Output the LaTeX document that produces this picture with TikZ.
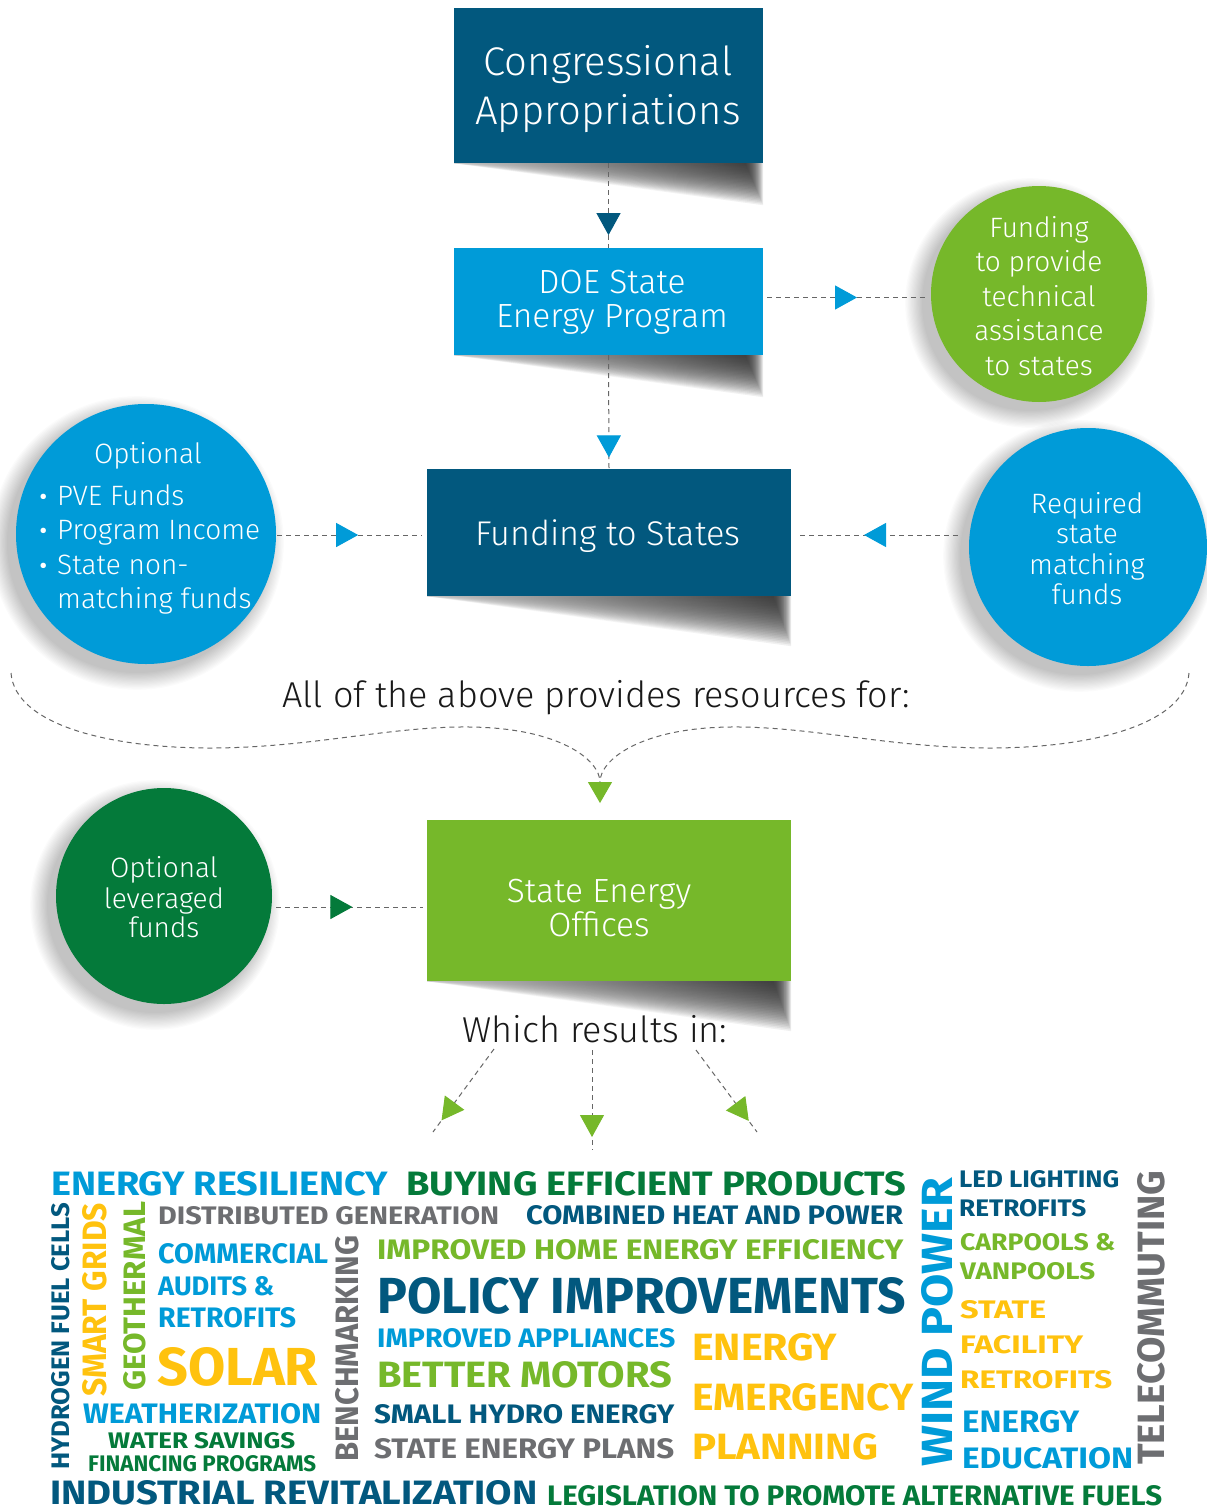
\documentclass[tikz,border=0pt]{standalone}
\usepackage{fontspec}
\usepackage{graphicx}
\usetikzlibrary{arrows.meta,decorations.markings,calc}
\IfFontExistsTF{Fira Sans Light}{\newfontfamily\lightfont{Fira Sans Light}}{\newfontfamily\lightfont{Fira Sans}}
\newfontfamily\boldfont{Fira Sans}
\definecolor{dblue}{HTML}{02587E}
\definecolor{lblue}{HTML}{009BD8}
\definecolor{lgreen}{HTML}{76B82A}
\definecolor{dgreen}{HTML}{047A3A}
\definecolor{wyellow}{HTML}{FFC20E}
\definecolor{wgray}{HTML}{6D6E71}
\pgfdeclarelayer{bg}
\pgfdeclarelayer{back}
\pgfsetlayers{back,bg,main}
\tikzset{
  box/.style={rectangle, inner sep=0pt},
  disc/.style={circle, inner sep=0pt},
  conn/.style={draw=black!60, line width=1pt, dash pattern=on 5pt off 4pt},
  tipat/.style n args={3}{postaction={decorate}, decoration={markings, mark=at position #1 with {\arrow{Triangle[length=#3pt,width=24pt,color=#2,fill=#2]}}}},
  lbl/.style={inner sep=0pt, anchor=base},
}
\newcommand{\lt}[5]{\node[lbl, text=#4, font={\lightfont\fontsize{#3}{#3}\selectfont}] (#1) at #2 {#5};}
\newcommand{\ltl}[5]{\node[lbl, anchor=base west, text=#4, font={\lightfont\fontsize{#3}{#3}\selectfont}] (#1) at #2 {#5};}
\newcommand{\wc}[7]{\node[inner sep=0pt, anchor=base west, text=#6] (#1) at (#2,#3) {\resizebox{#4pt}{#5pt}{\boldfont\bfseries #7}};}
\newcommand{\wcr}[7]{\node[inner sep=0pt, anchor=base west, rotate=90, text=#6] (#1) at (#2,#3) {\resizebox{#4pt}{#5pt}{\boldfont\bfseries #7}};}
\newcommand{\bul}{\makebox[19pt][l]{\smash{\raisebox{-4pt}{\scalebox{1.3}{•}}}}}
\begin{document}
\begin{tikzpicture}[x=1pt,y=-1pt]
\begin{pgfonlayer}{back}
\fill[white] (0,0) rectangle (1207,1510);
\end{pgfonlayer}
\useasboundingbox (0,0) rectangle (1207,1510);

% boxes
\node[box, fill=dblue, minimum width=309pt, minimum height=155pt] (cong) at (608.5,85.5) {};
\node[box, fill=lblue, minimum width=309pt, minimum height=107pt] (doe) at (608.5,301.5) {};
\node[box, fill=dblue, minimum width=364pt, minimum height=127pt] (fts) at (609,532.5) {};
\node[box, fill=lgreen, minimum width=364pt, minimum height=161pt] (seo) at (609,900.5) {};

% circles
\node[disc, fill=lgreen, minimum size=216pt] (ta) at (1039,294) {};
\node[disc, fill=lblue, minimum size=260pt] (opt) at (146,534) {};
\node[disc, fill=lblue, minimum size=238pt] (req) at (1088,547) {};
\node[disc, fill=dgreen, minimum size=216pt] (lev) at (164,896) {};

% shadows
\begin{pgfonlayer}{bg}
\foreach \b/\d in {cong/42, doe/42, fts/50, seo/50} {
  \foreach \k in {1,...,30} {
    \shade[left color=black!25, right color=black!85, opacity=0.065]
      (\b.south west) -- ($(\b.south east)+({-0.6*(30-\k)},0)$) -- ++(0,{\d*\k/30}) -- cycle;
  }
}
\foreach \c/\r in {ta/108, opt/130, req/119, lev/108} {
  \foreach \k in {0,...,14} {
    \fill[black, opacity=0.017] ($(\c)+(-9,9)$) circle [radius={(\r+\k*1.2)*1pt}];
  }
}
\end{pgfonlayer}

% box labels
\lt{congA}{(608,75)}{40}{white}{Congressional}
\lt{congB}{(608,124)}{40}{white}{Appropriations}
\lt{doeA}{(612,293)}{33.5}{white}{DOE State}
\lt{doeB}{(612,327)}{33.5}{white}{Energy Program}
\lt{ftsT}{(608,545)}{34.3}{white}{Funding to States}
\lt{seoA}{(599,902)}{33.5}{white}{State Energy}
\lt{seoB}{(599,936)}{33.5}{white}{Offices}
\lt{allT}{(596,707)}{36}{black!90}{All of the above provides resources for:}
\lt{wriT}{(595,1042)}{36}{black!90}{Which results in:}

% circle labels
\lt{taA}{(1039,237)}{28}{white}{Funding}
\lt{taB}{(1039,271.5)}{28}{white}{to provide}
\lt{taC}{(1039,306)}{28}{white}{technical}
\lt{taD}{(1039,340.5)}{28}{white}{assistance}
\lt{taE}{(1039,375)}{28}{white}{to states}
\lt{optA}{(148,463)}{28}{white}{Optional}
\ltl{optB}{(38,505)}{28}{white}{\bul PVE Funds}
\ltl{optC}{(38,539)}{28}{white}{\bul Program Income}
\ltl{optD}{(38,574)}{28}{white}{\bul State non-}
\ltl{optE}{(38,608)}{28}{white}{\hspace*{19pt}matching funds}
\lt{reqA}{(1087,513)}{28}{white}{Required}
\lt{reqB}{(1087,543)}{28}{white}{state}
\lt{reqC}{(1087,574)}{28}{white}{matching}
\lt{reqD}{(1087,604)}{28}{white}{funds}
\lt{levA}{(164,877)}{28}{white}{Optional}
\lt{levB}{(164,908)}{28}{white}{leveraged}
\lt{levC}{(164,937)}{28}{white}{funds}

% connectors
\draw[conn, tipat={0.85}{dblue}{22}] (cong.south) -- (doe.north);
\draw[conn, tipat={0.90}{lblue}{22}] (doe.south) -- (fts.north);
\draw[conn, tipat={0.57}{lblue}{22}] ($(doe.east)+(4,-4)$) -- ($(doe.east -| ta.west)+(-6,-4)$);
\draw[conn, tipat={0.56}{lblue}{22}] ($(opt.east)+(1,1)$) -- ($(opt.east -| fts.west)+(-5,1)$);
\draw[conn, tipat={0.595}{lblue}{22}] ($(req.west)+(-11,-12)$) -- ($(req.west -| fts.east)+(9,-12)$);
\draw[conn, tipat={0.52}{dgreen}{22}] ($(lev.east)+(4,11)$) -- ($(lev.east -| seo.west)+(-4,11)$);

\coordinate (cl) at (11,673);
\coordinate (cr) at (1189,673);
\coordinate (cm) at (600,803);
\coordinate (cmt) at (600,782);
\draw[conn, -{Triangle[length=21pt,width=24pt,color=lgreen,fill=lgreen]}] (cl) .. controls (15,725) and (110,748) .. (210,748) .. controls (310,748) and (390,726) .. (470,727) .. controls (560,728) and (600,760) .. (cm);
\draw[conn] (cr) .. controls (1185,725) and (1090,748) .. (990,748) .. controls (890,748) and (810,726) .. (730,727) .. controls (640,728) and (600,760) .. (cmt);

\coordinate (w1s) at (494,1049);
\coordinate (w1e) at (433,1132);
\coordinate (w2s) at (592,1050);
\coordinate (w2e) at (592,1150);
\coordinate (w3s) at (696,1050);
\coordinate (w3e) at (757,1132);
\draw[conn, tipat={0.86}{lgreen}{22}] (w1s) -- (w1e);
\draw[conn, tipat={0.87}{lgreen}{22}] (w2s) -- (w2e);
\draw[conn, tipat={0.865}{lgreen}{22}] (w3s) -- (w3e);

% word cloud
\wc{w01}{51}{1195}{337}{24}{lblue}{ENERGY RESILIENCY}
\wc{w02}{406}{1195}{500}{24}{dgreen}{BUYING EFFICIENT PRODUCTS}
\wc{w03}{158}{1224}{341}{18}{wgray}{DISTRIBUTED GENERATION}
\wc{w04}{526}{1224}{377}{19}{dblue}{COMBINED HEAT AND POWER}
\wc{w05}{158}{1263}{170}{20}{lblue}{COMMERCIAL}
\wc{w06}{158}{1295}{116}{19}{lblue}{AUDITS \&}
\wc{w07}{158}{1327}{138}{20}{lblue}{RETROFITS}
\wc{w08}{157}{1385}{161}{38}{wyellow}{SOLAR}
\wc{w09}{83}{1423}{238}{20}{lblue}{WEATHERIZATION}
\wc{w10}{108}{1448}{187}{16}{dgreen}{WATER SAVINGS}
\wc{w11}{88}{1471}{228}{16}{dgreen}{FINANCING PROGRAMS}
\wc{w12}{50}{1504}{487}{24}{dblue}{INDUSTRIAL REVITALIZATION}
\wc{w13}{547}{1505}{615}{20}{dgreen}{LEGISLATION TO PROMOTE ALTERNATIVE FUELS}
\wc{w14}{377}{1259}{526}{20}{lgreen}{IMPROVED HOME ENERGY EFFICIENCY}
\wc{w15}{377}{1313}{529}{36}{dblue}{POLICY IMPROVEMENTS}
\wc{w16}{377}{1347}{298}{19}{lblue}{IMPROVED APPLIANCES}
\wc{w17}{377}{1387}{295}{26}{lgreen}{BETTER MOTORS}
\wc{w18}{374}{1423}{300}{19}{dblue}{SMALL HYDRO ENERGY}
\wc{w19}{374}{1458}{300}{20}{wgray}{STATE ENERGY PLANS}
\wc{w20}{692}{1360}{145}{27}{wyellow}{ENERGY}
\wc{w21}{692}{1410}{221}{27}{wyellow}{EMERGENCY}
\wc{w22}{692}{1459}{186}{26}{wyellow}{PLANNING}
\wc{w23}{959}{1187}{160}{17}{dblue}{LED LIGHTING}
\wc{w24}{959}{1216}{127}{17}{dblue}{RETROFITS}
\wc{w25}{960}{1250}{155}{17}{lgreen}{CARPOOLS \&}
\wc{w26}{960}{1279}{135}{17}{lgreen}{VANPOOLS}
\wc{w27}{960}{1318}{86}{18}{wyellow}{STATE}
\wc{w28}{960}{1353}{123}{18}{wyellow}{FACILITY}
\wc{w29}{960}{1388}{152}{18}{wyellow}{RETROFITS}
\wc{w30}{962}{1432}{117}{22}{lblue}{ENERGY}
\wc{w31}{962}{1468}{171}{21}{lblue}{EDUCATION}
\wcr{w32}{70}{1470}{267}{18}{dblue}{HYDROGEN FUEL CELLS}
\wcr{w33}{106}{1397}{194}{24}{wyellow}{SMART GRIDS}
\wcr{w34}{145}{1391}{189}{22}{lgreen}{GEOTHERMAL}
\wcr{w35}{358}{1462}{226}{23}{wgray}{BENCHMARKING}
\wcr{w36}{952}{1467}{289}{31}{lblue}{WIND POWER}
\wcr{w37}{1164}{1465}{294}{27}{wgray}{TELECOMMUTING}
\end{tikzpicture}
\end{document}
